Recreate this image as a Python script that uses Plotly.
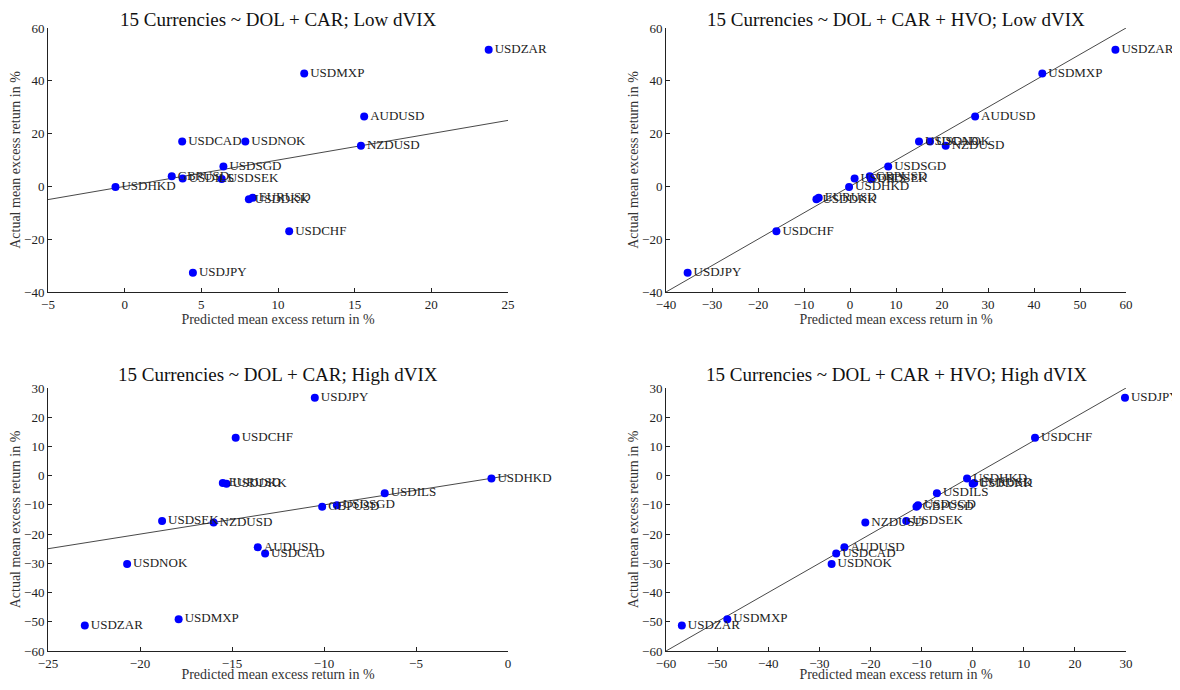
import plotly.graph_objects as go

names = ["USDZAR", "USDMXP", "AUDUSD", "USDCAD", "USDNOK", "NZDUSD", "USDSGD", "GBPUSD",
         "USDILS", "USDSEK", "USDHKD", "EURUSD", "USDDKK", "USDCHF", "USDJPY"]

# Low dVIX
low_actual = [51.8, 42.8, 26.5, 17.0, 17.0, 15.4, 7.5, 3.8, 3.0, 2.8, -0.2, -4.3, -4.9, -17.0, -32.7]
low_pred_car = [23.74, 11.71, 15.62, 3.75, 7.87, 15.41, 6.44, 3.07, 3.78, 6.33, -0.6, 8.35, 8.1, 10.73, 4.45]
low_pred_hvo = [57.7, 41.8, 27.2, 15.0, 17.4, 20.8, 8.3, 4.3, 1.0, 4.6, -0.2, -6.8, -7.3, -16.0, -35.3]

# High dVIX
high_actual = [-51.3, -49.1, -24.5, -26.6, -30.2, -16.0, -10.1, -10.6, -6.0, -15.5, -1.0, -2.5, -2.8, 13.0, 26.7]
high_pred_car = [-23.0, -17.9, -13.6, -13.2, -20.7, -16.0, -9.3, -10.1, -6.7, -18.8, -0.9, -15.5, -15.3, -14.8, -10.5]
high_pred_hvo = [-56.9, -48.0, -25.1, -26.7, -27.6, -21.0, -10.7, -11.0, -7.0, -13.0, -1.1, 0.3, 0.0, 12.2, 29.8]

titles = ["15 Currencies ~ DOL + CAR; Low dVIX",
          "15 Currencies ~ DOL + CAR + HVO; Low dVIX",
          "15 Currencies ~ DOL + CAR; High dVIX",
          "15 Currencies ~ DOL + CAR + HVO; High dVIX"]

xranges = [[-5, 25], [-40, 60], [-25, 0], [-60, 30]]
yranges = [[-40, 60], [-40, 60], [-60, 30], [-60, 30]]
xdticks = [5, 10, 5, 10]
ydticks = [20, 20, 10, 10]

OFF = 8  # page body margin
W, H = 1180 - 2 * OFF, 690 - 2 * OFF
FONT = "Liberation Serif"

panels = [
    (low_pred_car, low_actual),
    (low_pred_hvo, low_actual),
    (high_pred_car, high_actual),
    (high_pred_hvo, high_actual),
]

# pixel boxes of the plot areas in the screen (left, right, top, bottom)
boxes = [(48, 508, 28, 292), (666, 1126, 28, 292), (48, 508, 388, 651), (666, 1126, 388, 651)]

fig = go.Figure()
for i, ((px, py), box) in enumerate(zip(panels, boxes)):
    n = i + 1
    xa = "x" if n == 1 else f"x{n}"
    ya = "y" if n == 1 else f"y{n}"
    xr = xranges[i]
    fig.add_trace(go.Scatter(x=xr, y=xr, mode="lines",
                             line=dict(color="#333333", width=0.9),
                             xaxis=xa, yaxis=ya, showlegend=False, hoverinfo="skip",
                             cliponaxis=True))
    fig.add_trace(go.Scatter(x=px, y=py, mode="markers+text", text=names,
                             textposition="middle right",
                             textfont=dict(family=FONT, size=13, color="#222222"),
                             marker=dict(color="#0000FF", size=8),
                             xaxis=xa, yaxis=ya, showlegend=False, cliponaxis=False))
    l, r, t, b = [v - OFF for v in box]
    axkey_x = "xaxis" if n == 1 else f"xaxis{n}"
    axkey_y = "yaxis" if n == 1 else f"yaxis{n}"
    common = dict(showgrid=False, zeroline=False, showline=True, linecolor="#222222",
                  linewidth=1, ticks="inside", ticklen=4, tickcolor="#222222",
                  tickfont=dict(family=FONT, size=13, color="#222222"), mirror=False,
                  automargin=False)
    fig.update_layout({
        axkey_x: dict(domain=[l / W, r / W], anchor=ya, range=xr, dtick=xdticks[i],
                      tick0=0,
                      title=dict(text="Predicted mean excess return in %",
                                 font=dict(family=FONT, size=14, color="#333333"), standoff=2),
                      **common),
        axkey_y: dict(domain=[1 - b / H, 1 - t / H], anchor=xa, range=yranges[i],
                      dtick=ydticks[i], tick0=0,
                      title=dict(text="Actual mean excess return in %",
                                 font=dict(family=FONT, size=14, color="#333333"), standoff=0),
                      **common),
    })
    if i < 2:
        fig.add_annotation(x=(l + r) / 2 / W, y=1.0, xref="paper", yref="paper",
                           text=titles[i], showarrow=False, xanchor="center", yanchor="top",
                           borderpad=0,
                           font=dict(family=FONT, size=19, color="#111111"))
    else:
        fig.add_annotation(x=(l + r) / 2 / W, y=1 - (t - 14) / H, xref="paper", yref="paper",
                           text=titles[i], showarrow=False, xanchor="center", yanchor="middle",
                           font=dict(family=FONT, size=19, color="#111111"))

fig.update_layout(width=W, height=H, margin=dict(l=0, r=0, t=0, b=0),
                  paper_bgcolor="white", plot_bgcolor="white",
                  font=dict(family=FONT))
fig.write_html("out.html")
